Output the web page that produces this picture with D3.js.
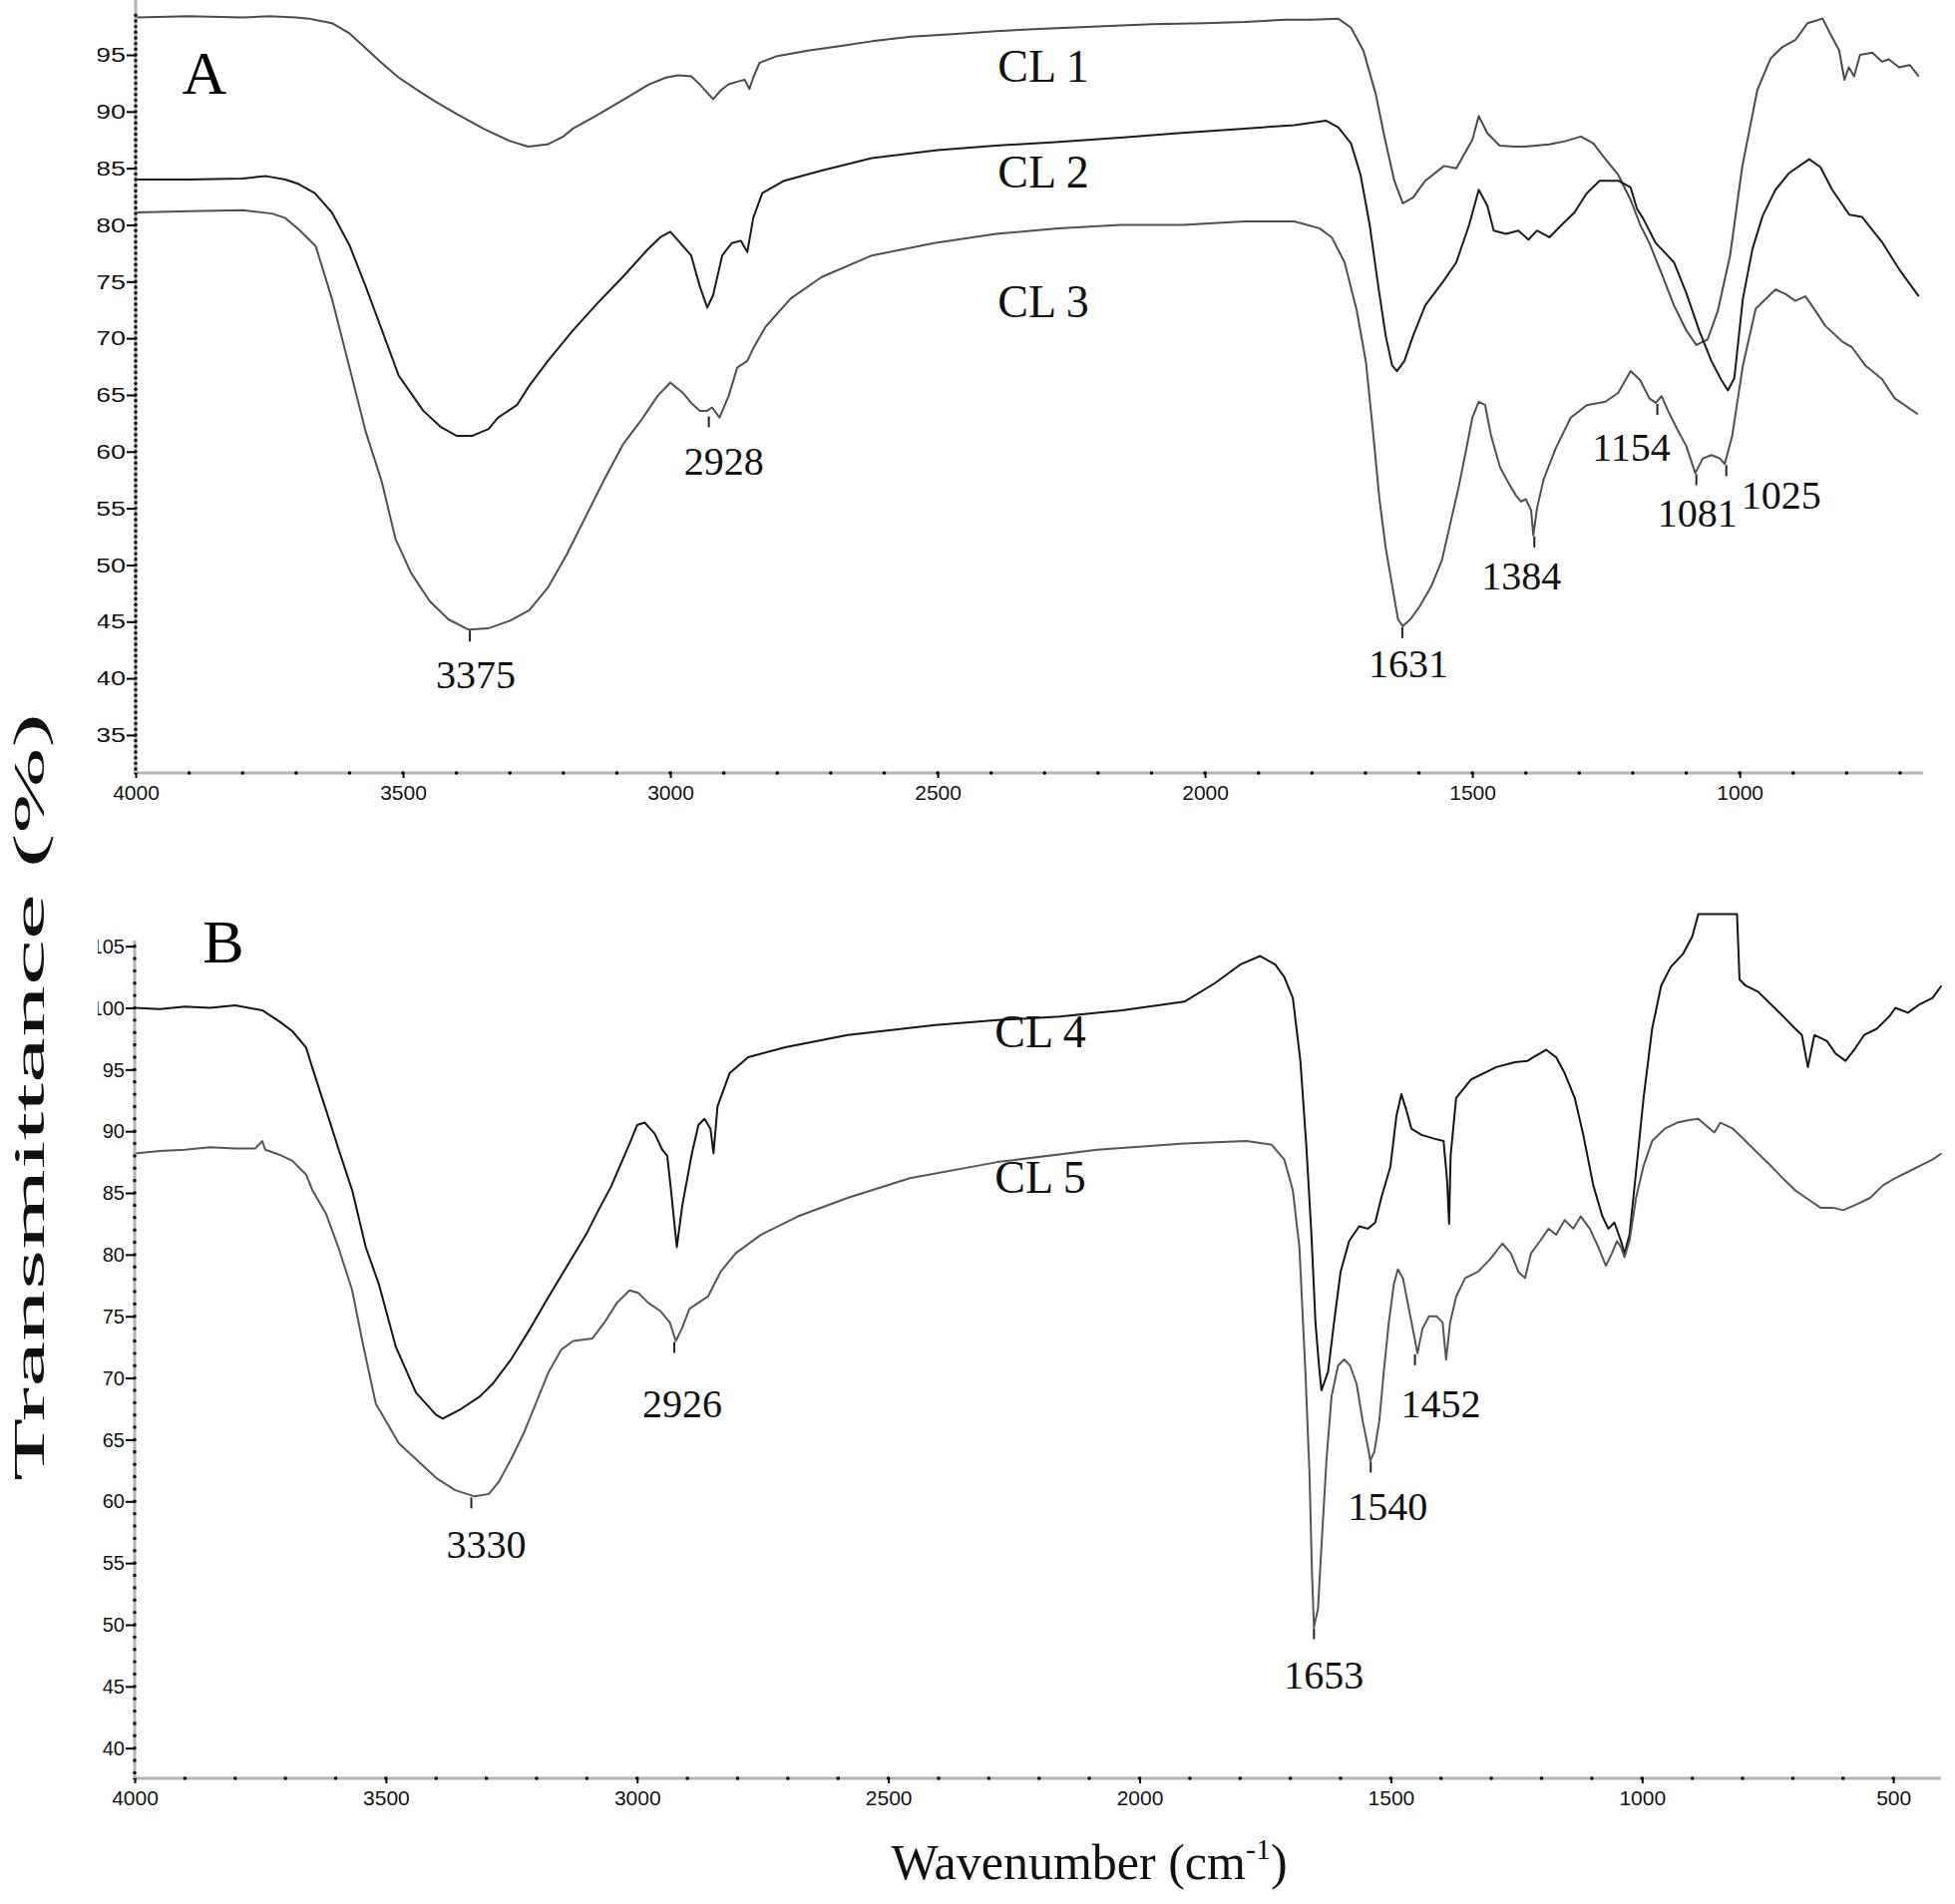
<!DOCTYPE html>
<html><head><meta charset="utf-8">
<script src="https://cdn.jsdelivr.net/npm/d3@7"></script>
<style>body{margin:0;background:#fff}</style>
</head><body>
<svg id="c" width="1960" height="1909" xmlns="http://www.w3.org/2000/svg"></svg>
<script>
// ---------------- DATA ----------------
// Panel A
const wnCL1 = [4000,3900,3800,3750,3700,3676,3633,3600,3570,3540,3508,3470,3440,3400,3350,3300,3266,3230,3200,3182,3140,3089,3040,3008,2985,2961,2945,2920,2905,2891,2870,2861,2852,2845,2833,2800,2740,2680,2623,2550,2480,2391,2300,2200,2100,2000,1926,1850,1800,1751,1727,1704,1681,1664,1646,1630,1611,1588,1553,1530,1500,1488,1472,1449,1420,1402,1356,1325,1297,1274,1251,1227,1204,1186,1169,1146,1123,1100,1081,1060,1041,1018,995,967,942,920,896,873,845,831,814,804,796,786,775,752,734,721,702,682,665];
const tCL1  = [98.3,98.4,98.3,98.4,98.3,98.2,97.8,96.9,95.6,94.3,93.0,91.8,90.9,89.8,88.5,87.4,86.9,87.1,87.8,88.5,89.6,91.0,92.4,93.0,93.2,93.1,92.4,91.1,91.9,92.4,92.7,92.8,92.0,93.0,94.3,94.9,95.4,95.8,96.2,96.6,96.8,97.1,97.3,97.5,97.7,97.8,97.9,98.1,98.1,98.2,97.4,95.4,91.6,87.7,83.9,81.9,82.4,83.9,85.2,85.0,87.5,89.6,88.1,87.0,86.9,86.9,87.1,87.4,87.8,87.2,85.8,84.4,82.2,80.0,78.4,75.7,72.9,70.7,69.4,69.9,72.4,77.3,85.2,91.9,94.7,95.7,96.3,97.8,98.2,96.9,95.4,92.8,93.9,93.1,95.0,95.2,94.4,94.6,93.9,94.1,93.1];

const wnCL2 = [4000,3900,3800,3756,3720,3695,3665,3633,3600,3570,3540,3508,3462,3430,3400,3370,3340,3322,3287,3264,3229,3182,3136,3089,3043,3019,3000,2985,2961,2945,2931,2920,2903,2885,2868,2856,2845,2828,2787,2717,2623,2500,2391,2280,2158,2050,1926,1833,1774,1751,1727,1709,1692,1676,1662,1650,1641,1627,1611,1588,1553,1530,1506,1488,1472,1460,1437,1414,1395,1379,1356,1333,1309,1286,1262,1227,1204,1192,1181,1157,1139,1123,1100,1076,1053,1034,1022,1010,994,976,957,933,907,870,849,827,795,771,734,702,665];
const tCL2  = [84.0,84.0,84.1,84.3,84.0,83.6,82.8,81.1,78.2,74.6,70.8,66.7,63.6,62.2,61.4,61.4,62.0,63.0,64.1,65.8,68.0,70.7,73.1,75.4,77.8,78.9,79.4,78.6,77.3,74.6,72.7,73.8,77.3,78.4,78.6,77.6,80.6,82.8,83.9,84.8,85.9,86.6,87.0,87.3,87.7,88.1,88.5,88.8,89.2,88.6,87.2,84.4,80.0,74.6,70.2,67.6,67.1,68.0,70.2,72.9,75.1,76.7,80.0,83.1,81.7,79.5,79.2,79.5,78.7,79.5,78.9,80.0,81.1,82.8,83.9,83.9,83.3,81.4,80.6,78.4,77.5,76.7,74.0,70.7,68.0,66.3,65.4,66.5,73.5,77.9,80.8,83.1,84.6,85.8,85.1,83.1,80.9,80.7,78.5,76.1,73.7];

const wnCL3 = [4000,3900,3800,3745,3720,3695,3663,3633,3601,3570,3540,3514,3485,3450,3415,3378,3341,3299,3264,3229,3194,3159,3124,3089,3054,3024,3000,2977,2961,2945,2931,2922,2908,2891,2875,2856,2845,2822,2775,2717,2623,2507,2391,2275,2158,2042,1926,1833,1786,1763,1739,1716,1699,1685,1674,1662,1650,1639,1630,1616,1599,1576,1557,1541,1525,1511,1500,1488,1476,1465,1448,1432,1418,1409,1400,1390,1386,1379,1367,1344,1316,1286,1251,1227,1204,1186,1169,1157,1146,1134,1116,1100,1083,1069,1053,1037,1028,1014,994,970,933,914,896,877,858,840,808,790,765,734,710,667];
const tCL3  = [81.1,81.2,81.3,81.0,80.6,79.6,78.1,73.5,67.6,61.8,57.4,52.3,49.3,46.8,45.2,44.3,44.4,45.1,46.0,48.0,50.9,54.2,57.5,60.6,62.8,64.9,66.1,65.2,64.3,63.6,63.6,63.9,63.0,64.9,67.4,68.0,69.1,71.0,73.5,75.4,77.3,78.4,79.2,79.7,80.0,80.0,80.3,80.3,79.7,78.9,76.7,72.4,67.9,61.4,55.9,51.5,48.2,45.2,44.6,45.2,46.3,48.2,50.4,53.7,57.0,60.3,63.0,64.4,64.1,61.4,58.6,57.2,56.1,55.6,55.8,54.8,52.6,55.0,57.5,60.3,63.0,64.1,64.4,65.2,67.1,66.3,64.7,64.3,64.9,63.6,61.9,60.5,58.1,59.4,59.7,59.4,58.9,61.4,67.6,72.6,74.3,73.9,73.3,73.7,72.4,71.1,69.7,69.2,67.6,66.4,64.7,63.3];

// Panel B
const wnCL4 = [4000,3950,3900,3850,3800,3746,3712,3686,3659,3646,3619,3593,3567,3540,3514,3480,3440,3400,3387,3350,3313,3288,3251,3213,3176,3139,3102,3077,3052,3015,3000,2985,2965,2950,2940,2932,2921,2910,2891,2878,2866,2854,2848,2840,2816,2779,2705,2581,2407,2283,2159,2035,1911,1850,1800,1760,1730,1712,1695,1680,1668,1658,1650,1643,1638,1625,1613,1600,1583,1563,1546,1531,1519,1501,1489,1479,1469,1459,1439,1414,1395,1388,1384,1381,1370,1340,1290,1253,1228,1216,1191,1171,1154,1134,1117,1097,1079,1067,1055,1042,1035,1025,1012,997,980,962,943,918,900,888,811,806,794,769,744,719,695,682,670,657,632,615,595,576,558,533,508,496,471,447,422,404];
const tCL4  = [100.0,99.9,100.1,100.0,100.2,99.8,98.9,98.1,96.8,95.1,91.7,88.4,85.2,80.6,77.6,72.5,68.8,67.0,66.7,67.5,68.5,69.5,71.5,74.0,76.6,79.1,81.6,83.6,85.5,89.0,90.5,90.7,89.8,88.5,88.0,85.0,80.6,84.0,88.2,90.5,91.0,90.2,88.2,92.0,94.7,96.0,96.8,97.8,98.6,99.0,99.3,99.8,100.5,102.0,103.5,104.2,103.5,102.5,100.8,95.7,88.7,81.6,74.5,71.0,69.0,70.5,74.5,78.6,81.1,82.3,82.1,82.6,84.6,87.1,91.2,93.0,91.7,90.2,89.7,89.4,89.2,86.0,82.5,88.0,92.7,94.2,95.2,95.6,95.7,96.0,96.6,96.0,94.7,92.7,89.7,85.6,83.1,82.1,82.6,81.1,80.1,81.6,86.7,92.7,98.3,101.8,103.3,104.4,105.8,107.6,107.6,102.3,101.8,101.3,100.3,99.3,98.3,97.8,95.2,97.8,97.3,96.3,95.7,96.7,97.8,98.3,99.3,100.0,99.6,100.3,100.8,101.8];

const wnCL5 = [4000,3950,3900,3850,3800,3760,3746,3740,3712,3686,3659,3646,3619,3593,3567,3547,3520,3474,3437,3400,3362,3323,3295,3275,3251,3226,3201,3176,3151,3127,3089,3065,3040,3015,2998,2978,2953,2935,2923,2911,2896,2878,2859,2834,2804,2754,2680,2581,2457,2283,2084,1911,1787,1737,1712,1695,1682,1670,1662,1657,1653,1645,1638,1628,1618,1605,1593,1581,1568,1556,1546,1541,1533,1523,1514,1504,1494,1486,1476,1464,1454,1447,1437,1424,1409,1397,1390,1382,1370,1352,1327,1303,1278,1261,1246,1233,1221,1203,1186,1171,1154,1137,1122,1104,1087,1072,1060,1050,1042,1035,1025,1012,997,980,955,930,906,888,868,856,844,819,794,769,744,720,695,670,645,620,600,571,546,521,496,471,447,422,404];
const tCL5  = [88.2,88.4,88.5,88.7,88.6,88.6,89.2,88.5,88.1,87.6,86.5,85.2,83.3,80.4,77.1,73.0,67.9,64.7,63.3,61.9,60.9,60.4,60.6,61.6,63.4,65.5,68.0,70.5,72.3,73.0,73.2,74.5,76.1,77.1,76.9,76.1,75.4,74.5,73.0,74.0,75.6,76.1,76.6,78.6,80.1,81.6,83.1,84.6,86.2,87.5,88.5,89.0,89.2,88.9,87.7,85.2,80.6,70.5,62.4,54.3,49.8,51.3,56.4,63.4,68.5,71.0,71.5,71.0,69.5,66.5,64.5,63.3,64.0,66.5,70.5,74.5,77.6,78.8,78.1,75.6,73.5,72.0,74.0,75.0,75.0,74.5,71.5,74.5,76.6,78.1,78.6,79.6,80.9,80.1,78.6,78.1,80.1,81.1,82.1,81.6,82.8,82.1,83.1,82.1,80.6,79.1,80.1,81.1,80.6,79.8,81.1,84.6,87.2,89.2,90.2,90.7,90.9,91.0,90.3,89.9,90.7,90.2,89.2,88.2,87.2,86.2,85.2,84.5,83.8,83.8,83.6,84.1,84.6,85.6,86.2,86.7,87.2,87.7,88.2];

// Axis ticks
const xTicksA = [4000,3500,3000,2500,2000,1500,1000];
const xTicksB = [4000,3500,3000,2500,2000,1500,1000,500];
const yTicksA = [35,40,45,50,55,60,65,70,75,80,85,90,95];
const yTicksB = [40,45,50,55,60,65,70,75,80,85,90,95,100,105];

// Series names
const seriesNamesA = ["CL 1","CL 2","CL 3"];
const seriesNamesB = ["CL 4","CL 5"];

// Peak annotations: wavenumber and transmittance at the marked minimum
const peakWnA = [3375,2928,1631,1384,1154,1081,1025];
const peakTA  = [44.3,63.2,44.6,52.6,64.3,58.1,58.9];
const peakWnB = [3330,2926,1653,1540,1452];
const peakTB  = [60.4,73.0,49.8,63.3,72.0];

// ---------------- LAYOUT ----------------
const svg = d3.select("#c");
svg.append("rect").attr("width",1960).attr("height",1909).attr("fill","#fff");

const panels = [
  { x: d3.scaleLinear().domain([4000,657]).range([136,1928]),
    y: d3.scaleLinear().domain([31.65,98.96]).range([775,10]),
    axisTop: 0, xTicks: xTicksA, yTicks: yTicksA, yMinorStep: 0.5, yMinorFrom: 32, yMinorTo: 98.5,
    xMinorTo: 700, letter: "A", letterPos: [205,94], labelLen: 30, labelSize: 20,
    series: [
      {wn: wnCL1, t: tCL1, color:"#4a4a4a", name: seriesNamesA[0], lx:1046, ly:82},
      {wn: wnCL2, t: tCL2, color:"#1a1a1a", name: seriesNamesA[1], lx:1046, ly:188},
      {wn: wnCL3, t: tCL3, color:"#4f4f4f", name: seriesNamesA[2], lx:1046, ly:318}
    ],
    peaks: peakWnA.map((w,i)=>({w, t: peakTA[i]})),
    peakOffsets: [[6,59],[15,60],[6,51],[-13,54],[-26,58],[1,54],[55,45]]
  },
  { x: d3.scaleLinear().domain([4000,405]).range([135,1946]),
    y: d3.scaleLinear().domain([37.55,107.8]).range([1783,914]),
    axisTop: 943, xTicks: xTicksB, yTicks: yTicksB, yMinorStep: 1, yMinorFrom: 38, yMinorTo: 105,
    xMinorTo: 500, letter: "B", letterPos: [224,965], labelLen: null, labelSize: 20,
    series: [
      {wn: wnCL4, t: tCL4, color:"#141414", name: seriesNamesB[0], lx:1043, ly:1050},
      {wn: wnCL5, t: tCL5, color:"#555555", name: seriesNamesB[1], lx:1043, ly:1196}
    ],
    peaks: peakWnB.map((w,i)=>({w, t: peakTB[i]})),
    peakOffsets: [[15,62],[8,77],[10,62],[17,60],[26,64]]
  }
];

const defs = svg.append("defs");
defs.append("clipPath").attr("id","labclip").append("rect")
  .attr("x",98).attr("y",0).attr("width",1862).attr("height",1909);

const serif = "'Liberation Serif','Times New Roman',serif";
const sans = "'Liberation Sans',Arial,sans-serif";

panels.forEach((p, pi) => {
  const g = svg.append("g");
  const x = p.x, y = p.y;
  const x0 = x.range()[0], x1 = x.range()[1];
  const yb = y.range()[0];

  // curves
  const line = d3.line().x(d => x(d[0])).y(d => y(d[1])).curve(d3.curveLinear);
  p.series.forEach(s => {
    const pts = s.wn.map((w,i)=>[w, s.t[i]]);
    g.append("path").attr("d", line(pts)).attr("fill","none")
      .attr("stroke", s.color).attr("stroke-width",2).attr("stroke-linejoin","round");
  });

  // x axis (grey baseline + minor dots + major ticks)
  g.append("line").attr("x1",x0).attr("x2",x1).attr("y1",yb).attr("y2",yb)
    .attr("stroke","#b4b4b4").attr("stroke-width",3);
  const xMinor = d3.range(4000, p.xMinorTo-1, -100);
  g.selectAll(null).data(xMinor).enter().append("circle")
    .attr("cx", d=>x(d)).attr("cy", yb).attr("r",1.8).attr("fill","#000");
  const gx = g.append("g").attr("transform",`translate(0,${yb})`)
    .call(d3.axisBottom(x).tickValues(p.xTicks).tickSize(5).tickFormat(d3.format("d")));
  gx.select(".domain").remove();
  gx.selectAll(".tick line").attr("stroke","#000").attr("stroke-width",2);
  gx.selectAll(".tick text").attr("font-family",sans).attr("font-size",21)
    .attr("fill","#111").attr("y",12).attr("dy","0.71em");

  // y axis
  g.append("line").attr("x1",x0).attr("x2",x0).attr("y1",p.axisTop).attr("y2",yb)
    .attr("stroke","#b4b4b4").attr("stroke-width",3);
  const yMinor = d3.range(p.yMinorFrom, p.yMinorTo+0.001, p.yMinorStep);
  g.selectAll(null).data(yMinor).enter().append("circle")
    .attr("cx", x0).attr("cy", d=>y(d)).attr("r",1.7).attr("fill","#000");
  const gy = g.append("g").attr("transform",`translate(${x0},0)`)
    .call(d3.axisLeft(y).tickValues(p.yTicks).tickSize(9).tickFormat(() => ""));
  gy.select(".domain").remove();
  gy.selectAll(".tick line").attr("stroke","#000").attr("stroke-width",2);
  gy.selectAll(".tick text").remove();
  // y tick labels (clipped at the left edge as in the reference)
  const labG = g.append("g").attr("clip-path","url(#labclip)");
  const lab = labG.selectAll(null).data(p.yTicks).enter().append("text")
    .attr("x", x0 - 10).attr("y", d => y(d)).attr("dy","0.36em")
    .attr("text-anchor","end").attr("font-family",sans).attr("font-size",p.labelSize)
    .attr("fill","#111").text(d => d);
  if (p.labelLen) lab.attr("textLength", d => String(d).length * p.labelLen / 2)
                     .attr("lengthAdjust","spacingAndGlyphs");

  // panel letter
  g.append("text").attr("x",p.letterPos[0]).attr("y",p.letterPos[1]).attr("text-anchor","middle")
    .attr("font-family",serif).attr("font-size",62).attr("fill","#000").text(p.letter);

  // series labels
  p.series.forEach(s => {
    g.append("text").attr("x",s.lx).attr("y",s.ly).attr("text-anchor","middle")
      .attr("font-family",serif).attr("font-size",46).attr("fill","#111").text(s.name);
  });

  // peaks
  p.peaks.forEach((pk,i) => {
    const px = x(pk.w), py = y(pk.t);
    g.append("line").attr("x1",px).attr("x2",px).attr("y1",py+1).attr("y2",py+12)
      .attr("stroke","#222").attr("stroke-width",2);
    g.append("text").attr("x",px + p.peakOffsets[i][0]).attr("y",py + p.peakOffsets[i][1])
      .attr("text-anchor","middle").attr("font-family",serif).attr("font-size",40)
      .attr("fill","#111").text(String(pk.w));
  });
});

// axis titles
svg.append("text").attr("transform","translate(44,1100) rotate(-90)")
  .attr("text-anchor","middle").attr("font-family",serif).attr("font-size",44).attr("fill","#111")
  .attr("textLength",770).attr("lengthAdjust","spacingAndGlyphs").text("Transmittance (%)");
const xt = svg.append("text").attr("x",1092).attr("y",1884).attr("text-anchor","middle")
  .attr("font-family",serif).attr("font-size",50).attr("fill","#111");
xt.append("tspan").text("Wavenumber (cm");
xt.append("tspan").attr("font-size",30).attr("dy",-20).text("-1");
xt.append("tspan").attr("dy",20).text(")");
</script>
</body></html>
